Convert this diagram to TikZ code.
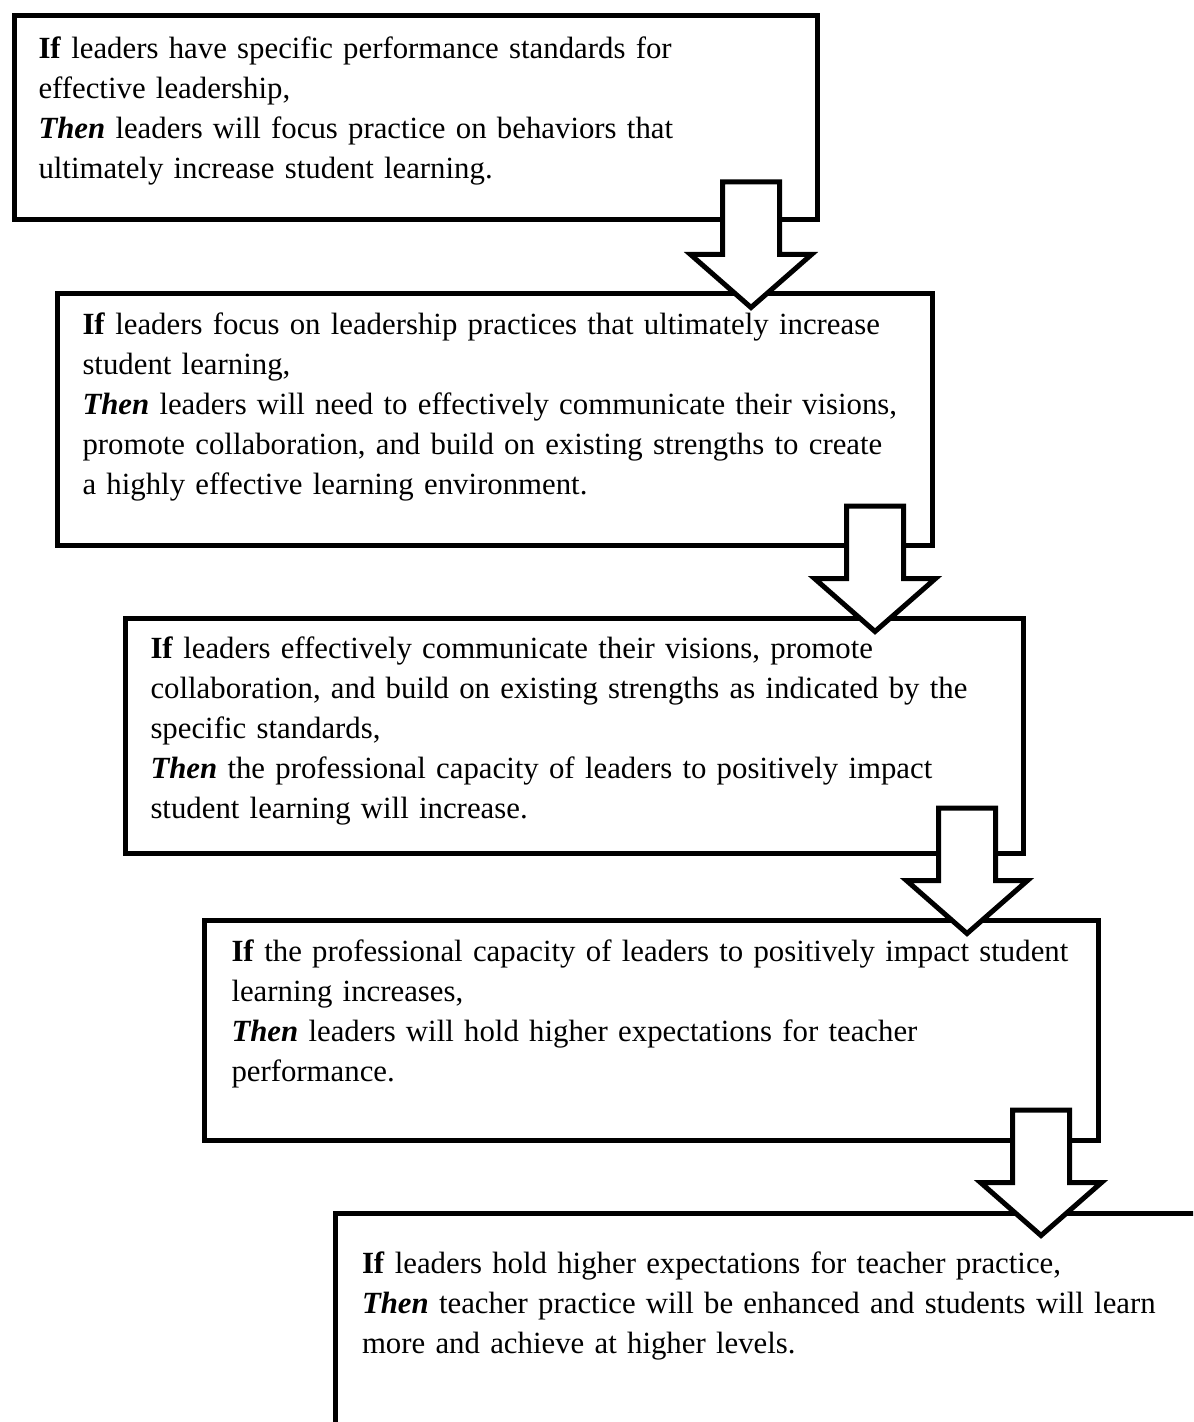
\documentclass[tikz,border=0pt]{standalone}
\usepackage{fontspec}
\setmainfont[WordSpace=0.8]{Liberation Serif}

\begin{document}
\begin{tikzpicture}
	[
	x=0.5pt, y=-0.5pt,
	line width=2.5pt,
	box/.style = {draw, rectangle, inner sep=0pt, outer sep=0pt, anchor=north west},
	txt/.style = {anchor=base west, inner sep=0pt, align=left, text width=500pt, font=\fontsize{15.4}{20}\selectfont},
	bigarrow/.pic = {\draw[fill=white] (-28.5,0) -- (28.5,0) -- (28.5,72.5) -- (60.5,72.5) -- (0,125.5) -- (-60.5,72.5) -- (-28.5,72.5) -- cycle;}
	]
	\clip (0,0) rectangle (1193,1422);

	% boxes
	\node[box, minimum width=401.5pt, minimum height=102pt] (b1) at (14.5,16) {};
	\node[box, minimum width=437.5pt, minimum height=125.5pt] (b2) at (57,294) {};
	\node[box, minimum width=449pt, minimum height=117.75pt] (b3) at (125.7,618) {};
	\node[box, minimum width=447pt, minimum height=110pt] (b4) at (204,920) {};
	\node[box, minimum width=500pt, minimum height=150pt] (b5) at (335.5,1213) {};

	% arrows
	\coordinate (a1) at (751,182);
	\coordinate (a2) at (875,506);
	\coordinate (a3) at (967,808);
	\coordinate (a4) at (1041,1110);
	\foreach \a in {a1,a2,a3,a4}
		\pic at (\a) {bigarrow};

	% texts
	\node[txt] (t1) at ([shift={(21.5,43)}]b1.north west) {\textbf{If} leaders have specific performance standards for\\
		effective leadership,\\
		\textbf{\textit{Then}} leaders will focus practice on behaviors that\\
		ultimately increase student learning.};
	\node[txt] (t2) at ([shift={(23,41)}]b2.north west) {\textbf{If} leaders focus on leadership practices that ultimately increase\\
		student learning,\\
		\textbf{\textit{Then}} leaders will need to effectively communicate their visions,\\
		promote collaboration, and build on existing strengths to create\\
		a highly effective learning environment.};
	\node[txt] (t3) at ([shift={(22.3,40)}]b3.north west) {\textbf{If} leaders effectively communicate their visions, promote\\
		collaboration, and build on existing strengths as indicated by the\\
		specific standards,\\
		\textbf{\textit{Then}} the professional capacity of leaders to positively impact\\
		student learning will increase.};
	\node[txt] (t4) at ([shift={(25,41)}]b4.north west) {\textbf{If} the professional capacity of leaders to positively impact student\\
		learning increases,\\
		\textbf{\textit{Then}} leaders will hold higher expectations for teacher\\
		performance.};
	\node[txt] (t5) at ([shift={(24,60)}]b5.north west) {\textbf{If} leaders hold higher expectations for teacher practice,\\
		\textbf{\textit{Then}} teacher practice will be enhanced and students will learn\\
		more and achieve at higher levels.};
\end{tikzpicture}
\end{document}
